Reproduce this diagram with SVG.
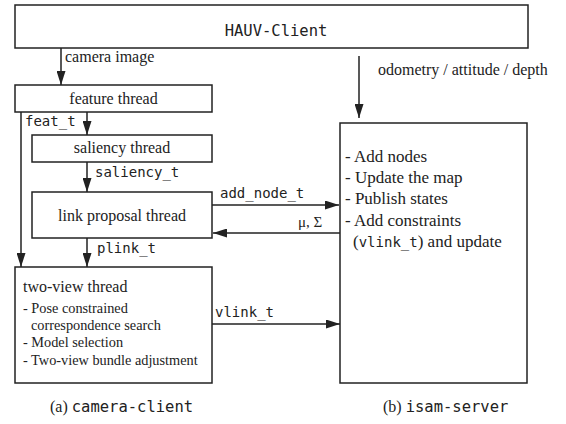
<svg xmlns="http://www.w3.org/2000/svg" width="566" height="424" viewBox="0 0 566 424">
<style>
.box{fill:#fff;stroke:#222;stroke-width:1.5}
.ln{fill:none;stroke:#222;stroke-width:1.5}
.s{font-family:"Liberation Serif","Times New Roman",serif;fill:#222}
.m{font-family:"DejaVu Sans Mono","Liberation Mono",monospace;fill:#222}
</style>
<defs>
<marker id="ah" markerUnits="userSpaceOnUse" markerWidth="14" markerHeight="9" refX="14" refY="4.5" orient="auto">
<path d="M0,0 L14,4.5 L0,9 z" fill="#222"/>
</marker>
</defs>
<rect width="566" height="424" fill="#fff"/>
<g id="hauv-client">
<rect class="box" x="15" y="5" width="513" height="43"/>
<text class="m" x="276" y="36" font-size="15.5" text-anchor="middle">HAUV-Client</text>
</g>
<g id="feature-thread">
<rect class="box" x="15" y="85" width="197" height="27"/>
<text class="s" x="113.5" y="104" font-size="16" text-anchor="middle">feature thread</text>
</g>
<g id="saliency-thread">
<rect class="box" x="32" y="135" width="180" height="27"/>
<text class="s" x="122" y="153" font-size="16" text-anchor="middle">saliency thread</text>
</g>
<g id="link-proposal-thread">
<rect class="box" x="32" y="192" width="180" height="46"/>
<text class="s" x="122" y="221" font-size="16" text-anchor="middle">link proposal thread</text>
</g>
<g id="two-view-thread">
<rect class="box" x="15" y="267" width="197" height="116"/>
<text class="s" x="23" y="292" font-size="16">two-view thread</text>
<text class="s" x="23" y="313" font-size="14.3">- Pose constrained</text>
<text class="s" x="31" y="330" font-size="14.3">correspondence search</text>
<text class="s" x="23" y="347" font-size="14.3">- Model selection</text>
<text class="s" x="23" y="365" font-size="14.3">- Two-view bundle adjustment</text>
</g>
<g id="isam-server">
<rect class="box" x="340" y="123" width="187" height="260"/>
<text class="s" x="345" y="162" font-size="17">- Add nodes</text>
<text class="s" x="345" y="183" font-size="17">- Update the map</text>
<text class="s" x="345" y="204" font-size="17">- Publish states</text>
<text class="s" x="345" y="226" font-size="17">- Add constraints</text>
<text class="s" x="353" y="247" font-size="17">(<tspan class="m" font-size="14">vlink_t</tspan>) and update</text>
</g>
<g id="connectors">
<path class="ln" d="M61,48 V85" marker-end="url(#ah)"/>
<path class="ln" d="M87,112 V135" marker-end="url(#ah)"/>
<path class="ln" d="M87,162 V192" marker-end="url(#ah)"/>
<path class="ln" d="M87,238 V267" marker-end="url(#ah)"/>
<path class="ln" d="M21,112 V267" marker-end="url(#ah)"/>
<path class="ln" d="M359,56 V118" marker-end="url(#ah)"/>
<path class="ln" d="M212,205 H339" marker-end="url(#ah)"/>
<path class="ln" d="M340,233 H213" marker-end="url(#ah)"/>
<path class="ln" d="M212,324 H340" marker-end="url(#ah)"/>
<text class="s" x="65" y="62" font-size="16">camera image</text>
<text class="s" x="378" y="75" font-size="16">odometry / attitude / depth</text>
<text class="m" x="25" y="126" font-size="14">feat_t</text>
<text class="m" x="95" y="177" font-size="14">saliency_t</text>
<text class="m" x="220" y="198" font-size="14">add_node_t</text>
<text class="s" x="298" y="227" font-size="15">μ, Σ</text>
<text class="m" x="97" y="253" font-size="14">plink_t</text>
<text class="m" x="215" y="317" font-size="14">vlink_t</text>
</g>
<g id="captions">
<text class="s" x="50" y="412" font-size="16">(a) <tspan class="m" font-size="15.5">camera-client</tspan></text>
<text class="s" x="383" y="412" font-size="16">(b) <tspan class="m" font-size="15.5">isam-server</tspan></text>
</g>
</svg>
